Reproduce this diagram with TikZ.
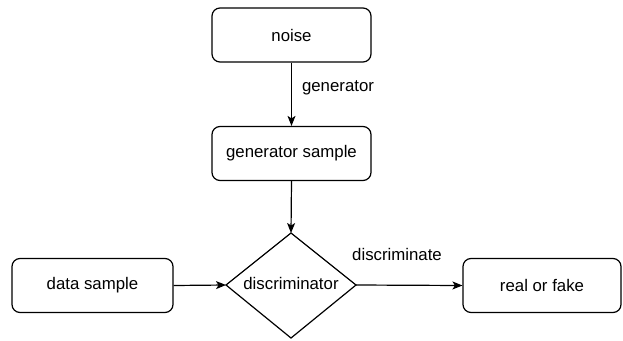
\documentclass[tikz,border=0pt]{standalone}
\usepackage{fontspec}
\setmainfont{Liberation Sans}
\usetikzlibrary{arrows.meta}
\begin{document}
\begin{tikzpicture}[x=1pt,y=-1pt,
  txt/.style={font=\fontsize{16.8}{19}\selectfont},
  box/.style={txt, draw, rounded corners=8pt, line width=1.2pt, minimum width=159pt, minimum height=54pt, inner sep=0pt},
  diaedge/.style={draw, line width=1.2pt},
  conn/.style={line width=1.2pt, -{Stealth[length=10pt,width=8pt,inset=2.5pt]}}]
\useasboundingbox (0,0) rectangle (623,340);
\node[box] (noise) at (291.5,35) {noise};
\node[box] (gs) at (291.5,153.5) {generator sample};
\coordinate (dl) at (226,285);
\coordinate (dr) at (356,285);
\coordinate (dt) at (291,233);
\coordinate (db) at (291,338);
\path[diaedge] (dl) -- (dt) -- (dr) -- (db) -- cycle;
\node[txt] (disc) at (291,283) {discriminator};
\node[box, minimum width=161pt] (data) at (92.5,285.5) {data sample};
\node[box, minimum width=158pt] (rf) at (542,285.5) {real or fake};
\draw[conn] (noise.south) -- (gs.north);
\draw[conn] (gs.south) -- (dt);
\draw[conn] (data.east) -- (dl);
\draw[conn] (dr) -- (rf.west);
\node[txt] (glbl) at (338,88) {generator};
\node[txt] (dlbl) at (397,254) {discriminate};
\end{tikzpicture}
\end{document}
